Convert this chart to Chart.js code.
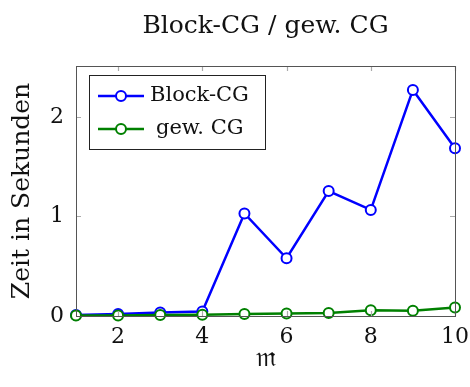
<!DOCTYPE html>
<html>
<head>
<meta charset="utf-8">
<script src="https://cdn.jsdelivr.net/npm/chart.js@4"></script>
<style>
  html, body { margin: 0; padding: 0; background: #fff; }
  #wrap { width: 470px; height: 387px; }
</style>
</head>
<body>
<div id="wrap"><canvas id="cgChart" width="470" height="387"></canvas></div>
<script>
// Block-CG vs gew. CG timings

const mValues = [1, 2, 3, 4, 5, 6, 7, 8, 9, 10];
const blockCG = [0.01, 0.02, 0.035, 0.045, 1.03, 0.58, 1.255, 1.065, 2.27, 1.685];
const gewCG = [0.005, 0.006, 0.01, 0.013, 0.02, 0.025, 0.03, 0.057, 0.053, 0.085];
const xTicks = [2, 4, 6, 8, 10];
const yTicks = [0, 1, 2];
const chartTitle = 'Block-CG / gew. CG';

const serif = "'DejaVu Serif', 'Liberation Serif', serif";

// pgfplots-like frame, inner tick marks, title over the plot and boxed legend
const framePlugin = {
    id: 'frame',
    afterDatasetsDraw(chart) {
        const { ctx, chartArea: a, scales } = chart;
        ctx.save();
        ctx.strokeStyle = '#aaaaaa';
        ctx.lineWidth = 1.2;
        const len = 5;
        xTicks.forEach(v => {
            const x = Math.round(scales.x.getPixelForValue(v)) + 0.5;
            ctx.beginPath();
            ctx.moveTo(x, a.bottom); ctx.lineTo(x, a.bottom - len);
            ctx.moveTo(x, a.top); ctx.lineTo(x, a.top + len);
            ctx.stroke();
        });
        yTicks.forEach(v => {
            const y = Math.round(scales.y.getPixelForValue(v)) + 0.5;
            ctx.beginPath();
            ctx.moveTo(a.left, y); ctx.lineTo(a.left + len, y);
            ctx.moveTo(a.right, y); ctx.lineTo(a.right - len, y);
            ctx.stroke();
        });
        ctx.strokeStyle = '#555555';
        ctx.lineWidth = 1;
        ctx.strokeRect(Math.round(a.left) + 0.5, Math.round(a.top) + 0.5,
                       Math.round(a.right - a.left), Math.round(a.bottom - a.top));

        // title centred over plot area
        ctx.fillStyle = '#111';
        ctx.font = '25px ' + serif;
        ctx.textAlign = 'center';
        ctx.textBaseline = 'middle';
        ctx.fillText(chartTitle, (a.left + a.right) / 2, 26);

        // legend box
        const bx = a.left + 13, by = a.top + 9, bw = 176, bh = 74;
        ctx.fillStyle = '#fff';
        ctx.fillRect(bx, by, bw, bh);
        ctx.strokeStyle = '#222';
        ctx.strokeRect(bx + 0.5, by + 0.5, bw, bh);
        ctx.font = '21px ' + serif;
        chart.data.datasets.forEach((ds, i) => {
            const cy = by + 21 + i * 33;
            ctx.strokeStyle = ds.borderColor;
            ctx.lineWidth = 2.5;
            ctx.beginPath();
            ctx.moveTo(bx + 9, cy); ctx.lineTo(bx + 55, cy);
            ctx.stroke();
            ctx.lineWidth = 2;
            ctx.fillStyle = '#fff';
            ctx.beginPath();
            ctx.arc(bx + 32, cy, 5, 0, Math.PI * 2);
            ctx.fill(); ctx.stroke();
            ctx.fillStyle = '#111';
            ctx.textAlign = 'left';
            ctx.fillText(ds.label, bx + (i === 0 ? 61 : 67), cy);
        });
        ctx.restore();
    }
};

const seriesStyle = color => ({
    borderColor: color,
    backgroundColor: '#ffffff',
    borderWidth: 2.5,
    pointRadius: 5,
    pointBorderWidth: 2,
    pointBackgroundColor: '#ffffff',
    tension: 0,
    clip: false
});

new Chart(document.getElementById('cgChart'), {
    type: 'line',
    data: {
        labels: mValues,
        datasets: [{
            label: 'Block-CG',
            data: mValues.map((m, i) => ({ x: m, y: blockCG[i] })),
            order: 2,
            ...seriesStyle('#0000ff')
        }, {
            label: 'gew. CG',
            data: mValues.map((m, i) => ({ x: m, y: gewCG[i] })),
            order: 1,
            ...seriesStyle('#008000')
        }]
    },
    options: {
        responsive: false,
        animation: false,
        layout: { padding: { left: 0, right: 15, top: 66, bottom: 0 } },
        plugins: {
            legend: { display: false },
            tooltip: { enabled: false }
        },
        scales: {
            x: {
                type: 'linear',
                min: 1,
                max: 10,
                afterFit: s => { s.height = 71; },
                afterBuildTicks: s => { s.ticks = xTicks.map(v => ({ value: v })); },
                grid: { display: false },
                border: { display: false },
                ticks: { color: '#111', font: { family: serif, size: 22 }, padding: 0, maxRotation: 0 },
                title: {
                    display: true,
                    text: '𝔪',
                    color: '#111',
                    font: { family: serif, size: 27 },
                    padding: { top: 0, bottom: 12 }
                }
            },
            y: {
                min: 0,
                max: 2.51,
                afterFit: s => { s.width = 76; },
                afterBuildTicks: s => { s.ticks = yTicks.map(v => ({ value: v })); },
                grid: { display: false },
                border: { display: false },
                ticks: { color: '#111', font: { family: serif, size: 22 }, padding: 4 },
                title: {
                    display: true,
                    text: 'Zeit in Sekunden',
                    color: '#111',
                    font: { family: serif, size: 25 },
                    padding: { top: 7, bottom: 0 }
                }
            }
        }
    },
    plugins: [framePlugin]
});
</script>
</body>
</html>
